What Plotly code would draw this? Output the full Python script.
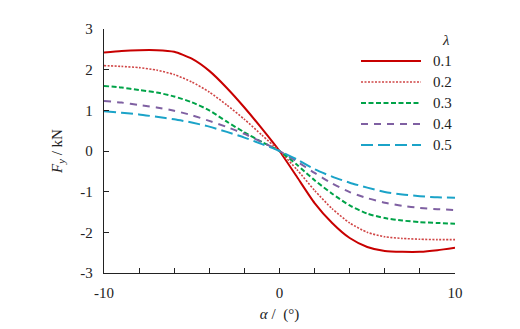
import plotly.graph_objects as go

alpha = [-10, -9, -8, -7, -6, -5, -4, -3, -2, -1, 0, 1, 2, 3, 4, 5, 6, 7, 8, 9, 10]
fy_01 = [2.42, 2.46, 2.48, 2.48, 2.44, 2.27, 1.97, 1.55, 1.07, 0.55, 0.0,
         -0.64, -1.28, -1.77, -2.14, -2.36, -2.46, -2.48, -2.48, -2.44, -2.38]
fy_02 = [2.10, 2.08, 2.05, 1.99, 1.88, 1.70, 1.45, 1.13, 0.78, 0.39, 0.0,
         -0.46, -0.97, -1.42, -1.77, -2.00, -2.11, -2.15, -2.17, -2.18, -2.18]
fy_03 = [1.60, 1.56, 1.50, 1.44, 1.34, 1.20, 1.00, 0.72, 0.46, 0.22, 0.0,
         -0.34, -0.72, -1.05, -1.34, -1.54, -1.65, -1.71, -1.75, -1.77, -1.79]
fy_04 = [1.23, 1.19, 1.13, 1.07, 0.99, 0.88, 0.74, 0.59, 0.42, 0.22, 0.0,
         -0.26, -0.54, -0.80, -1.01, -1.16, -1.27, -1.35, -1.40, -1.43, -1.45]
fy_05 = [0.98, 0.94, 0.90, 0.84, 0.78, 0.70, 0.60, 0.47, 0.33, 0.17, 0.0,
         -0.21, -0.45, -0.63, -0.78, -0.90, -1.01, -1.07, -1.11, -1.14, -1.15]

labels = ["0.1", "0.2", "0.3", "0.4", "0.5"]
series = [fy_01, fy_02, fy_03, fy_04, fy_05]
colors = ["#C80000", "#D04545", "#00A348", "#7F60A2", "#1BA3C8"]
dashes = ["solid", "2px,1.5px", "5px,2.5px", "7px,6px", "12px,5px"]
widths = [2.0, 1.6, 2.0, 2.0, 2.0]

x_tickvals = [-10, 0, 10]
x_ticktext = ["-10", "0", "10"]
y_tickvals = [-3, -2, -1, 0, 1, 2, 3]
y_ticktext = ["-3", "-2", "-1", "0", "1", "2", "3"]

FONT = "Liberation Serif"

fig = go.Figure()
for lab, ys, c, d, w in zip(labels, series, colors, dashes, widths):
    fig.add_trace(go.Scatter(x=alpha, y=ys, mode="lines", name=lab,
                             line=dict(color=c, dash=d, width=w, shape="spline", smoothing=0.6),
                             showlegend=False))

W, H = 520, 329
ml, mr, mt, mb = 104, 65, 29, 56
pw, ph = W - ml - mr, H - mt - mb

def px_to_paper(px, py):
    return (px - ml) / pw, 1 - (py - mt) / ph

shapes = []
annotations = []
row_y = [61, 82, 103, 124, 145]
for lab, c, d, w, ry in zip(labels, colors, dashes, widths, row_y):
    x0, y0 = px_to_paper(361, ry)
    x1, _ = px_to_paper(421, ry)
    shapes.append(dict(type="line", xref="paper", yref="paper", x0=x0, x1=x1, y0=y0, y1=y0,
                       line=dict(color=c, dash=d, width=w)))
    tx, ty = px_to_paper(431, ry)
    annotations.append(dict(xref="paper", yref="paper", x=tx, y=ty, text=lab, showarrow=False,
                            xanchor="left", yanchor="middle",
                            font=dict(family=FONT, size=15, color="#222")))
lx, ly = px_to_paper(446, 40)
annotations.append(dict(xref="paper", yref="paper", x=lx, y=ly, text="<i>λ</i>", showarrow=False,
                        xanchor="center", yanchor="middle",
                        font=dict(family=FONT, size=15, color="#222")))

fig.update_layout(
    width=W, height=H,
    margin=dict(l=ml, r=mr, t=mt, b=mb, autoexpand=False),
    paper_bgcolor="white", plot_bgcolor="white",
    font=dict(family=FONT, size=15, color="#222"),
    shapes=shapes, annotations=annotations,
    xaxis=dict(range=[-10, 10], tickvals=x_tickvals, ticktext=x_ticktext,
               ticks="inside", ticklen=5, tickwidth=1, tickcolor="#222",
               minor=dict(dtick=2, tick0=0, ticks="inside", ticklen=5, tickwidth=1,
                          tickcolor="#222", showgrid=False),
               showline=True, linecolor="#222", linewidth=1.3,
               showgrid=False, zeroline=False, automargin=False,
               ticklabelstandoff=6,
               tickfont=dict(family=FONT, size=15),
               title=dict(text="<i>α</i> /  (°)", font=dict(family=FONT, size=15), standoff=8)),
    yaxis=dict(range=[-3, 3], tickvals=y_tickvals, ticktext=y_ticktext,
               ticks="inside", ticklen=5, tickwidth=1, tickcolor="#222",
               showline=True, linecolor="#222", linewidth=1.3,
               showgrid=False, zeroline=False, automargin=False,
               ticklabelstandoff=7,
               tickfont=dict(family=FONT, size=15),
               title=dict(text="<i>F</i><sub><i>y</i></sub> / kN", font=dict(family=FONT, size=15), standoff=14)),
)

fig.write_html("out.html")
